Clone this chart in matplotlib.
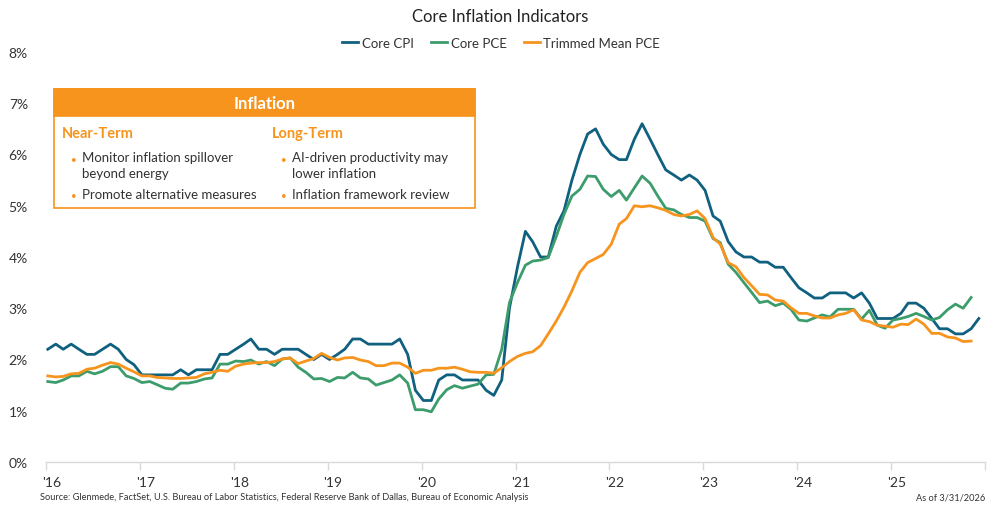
import matplotlib
matplotlib.use("Agg")
import matplotlib.pyplot as plt
import matplotlib.transforms as mtransforms
from matplotlib.patches import Rectangle
import pandas as pd

plt.rcParams['font.family'] = ['Lato', 'DejaVu Sans']

# ---------------- data ----------------
core_cpi = [2.2, 2.3, 2.2, 2.3,
            2.2, 2.1, 2.1, 2.2, 2.3, 2.2, 2.0, 1.9,
            1.7, 1.7, 1.7, 1.7, 1.7, 1.8, 1.7, 1.8,
            1.8, 1.8, 2.1, 2.1, 2.2, 2.3, 2.4, 2.2, 2.2, 2.1, 2.2, 2.2,
            2.2, 2.1, 2.0, 2.1, 2.0, 2.1, 2.2, 2.4, 2.4, 2.3, 2.3, 2.3,
            2.3, 2.4, 2.1, 1.4, 1.2, 1.2, 1.6, 1.7, 1.7, 1.6, 1.6, 1.6,
            1.4, 1.3, 1.6, 3.0, 3.8, 4.5, 4.3, 4.0, 4.0, 4.6, 4.9, 5.5,
            6.0, 6.4, 6.5, 6.2, 6.0, 5.9, 5.9, 6.3, 6.6, 6.3, 6.0, 5.7,
            5.6, 5.5, 5.6, 5.5, 5.3, 4.8, 4.7, 4.3, 4.1, 4.0, 4.0, 3.9,
            3.9, 3.8, 3.8, 3.6, 3.4, 3.3, 3.2, 3.2, 3.3, 3.3, 3.3, 3.2,
            3.3, 3.1, 2.8, 2.8, 2.8, 2.9, 3.1, 3.1, 3.0, 2.8, 2.6, 2.6,
            2.5, 2.5, 2.6, 2.8]

core_pce = [1.57, 1.55, 1.60, 1.68, 1.68, 1.77, 1.72, 1.77, 1.86, 1.86, 1.68, 1.63,
            1.55, 1.57, 1.51, 1.44, 1.42, 1.54, 1.54, 1.57, 1.62, 1.64, 1.91, 1.91, 1.97,
            1.96, 1.99, 1.91, 1.96, 1.88, 2.01, 2.03, 1.85, 1.75, 1.62, 1.63, 1.57, 1.65,
            1.64, 1.75,
            1.64, 1.62, 1.50, 1.55, 1.60, 1.70, 1.54, 1.02, 1.02, 0.98, 1.23, 1.41, 1.49,
            1.44, 1.48, 1.52, 1.70, 1.71,
            2.20, 3.11, 3.50, 3.84, 3.92, 3.94, 3.99, 4.40, 4.83,
            5.19, 5.32, 5.58, 5.57, 5.32, 5.18, 5.30, 5.11, 5.35, 5.58, 5.44, 5.19, 4.95,
            4.92, 4.83, 4.77, 4.77, 4.70, 4.36, 4.28, 3.86,
            3.70, 3.50, 3.31, 3.11, 3.14, 3.05, 3.10, 2.98, 2.77, 2.75, 2.81, 2.87, 2.83,
            2.98, 2.98, 2.98, 2.79, 2.96, 2.67, 2.61, 2.77, 2.80, 2.84, 2.90, 2.84, 2.77,
            2.82, 2.97, 3.08, 3.00, 3.21]

trimmed_pce = [1.68, 1.66, 1.67, 1.72, 1.73, 1.81, 1.83, 1.89, 1.94, 1.91, 1.83, 1.76,
               1.68, 1.68, 1.65, 1.64, 1.63, 1.63, 1.64, 1.65, 1.72, 1.75, 1.79, 1.77, 1.87,
               1.91, 1.93, 1.94, 1.94, 1.96, 2.01, 2.03, 1.92, 1.97, 2.02, 2.12, 2.04, 1.99,
               2.03, 2.04,
               1.99, 1.96, 1.88, 1.88, 1.93, 1.93, 1.85, 1.73, 1.79, 1.79, 1.83, 1.83, 1.85,
               1.81, 1.76, 1.75, 1.75, 1.73, 1.84, 1.96,
               2.06, 2.12, 2.15, 2.27, 2.50, 2.75, 3.02,
               3.34, 3.70, 3.89, 3.97, 4.05, 4.25, 4.64, 4.75, 5.00, 4.98, 5.00, 4.96, 4.91,
               4.83, 4.80, 4.83, 4.90, 4.75, 4.38,
               4.25, 3.89, 3.81, 3.60, 3.44, 3.27, 3.26, 3.16, 3.14, 3.01, 2.90, 2.90, 2.85,
               2.81, 2.81, 2.87, 2.90, 2.97, 2.77, 2.74, 2.67, 2.65, 2.63, 2.69, 2.68, 2.79,
               2.69, 2.51, 2.51, 2.44, 2.42, 2.35, 2.36]

tick_years = list(range(2016, 2027))
tick_labels = ["'16", "'17", "'18", "'19", "'20", "'21", "'22", "'23", "'24", "'25", ""]
y_ticks = [0, 1, 2, 3, 4, 5, 6, 7, 8]

series_names = ["Core CPI", "Core PCE", "Trimmed Mean PCE"]
colors = ["#10607F", "#3C9C6C", "#F7941D"]

near_term = ["Monitor inflation spillover\nbeyond energy", "Promote alternative measures"]
long_term = ["AI-driven productivity may\nlower inflation", "Inflation framework review"]

# ---------------- figure ----------------
months_cpi = pd.date_range("2016-01-01", periods=len(core_cpi), freq="MS") + pd.Timedelta(days=7)
months_pce = pd.date_range("2016-01-01", periods=len(core_pce), freq="MS") + pd.Timedelta(days=7)

fig = plt.figure(figsize=(10, 5.1), dpi=100)
ax = fig.add_axes([0.046, 1 - 463 / 510, 0.985 - 0.046, (463 - 53) / 510])

ax.plot(months_cpi, core_cpi, color=colors[0], lw=2.0, label=series_names[0], solid_joinstyle='round')
ax.plot(months_pce, core_pce, color=colors[1], lw=2.0, label=series_names[1], solid_joinstyle='round')
ax.plot(months_pce, trimmed_pce, color=colors[2], lw=2.0, label=series_names[2], solid_joinstyle='round')

ax.set_xlim(pd.Timestamp("2016-01-01"), pd.Timestamp("2026-01-01"))
ax.set_ylim(0, 8)

ax.set_yticks(y_ticks)
ax.set_yticklabels([f"{v}%" for v in y_ticks], fontsize=10, color="#333333")
ax.tick_params(axis='y', length=0, pad=13)

ax.set_xticks([pd.Timestamp(f"{y}-01-01") for y in tick_years])
ax.set_xticklabels(tick_labels, fontsize=10, color="#333333")
ax.tick_params(axis='x', length=6, width=1, color="#d9d9d9", pad=4)
offset = mtransforms.ScaledTranslation(-3 / 72, 0, fig.dpi_scale_trans)
for lab in ax.get_xticklabels():
    lab.set_horizontalalignment('left')
    lab.set_transform(lab.get_transform() + offset)

for s in ["top", "right", "left"]:
    ax.spines[s].set_visible(False)
ax.spines["bottom"].set_color("#d9d9d9")
ax.spines["bottom"].set_linewidth(1)

# Title and legend
fig.text(0.5, 1 - 17 / 510, "Core Inflation Indicators", ha="center", va="center",
         fontsize=12, color="#222222")
fig.legend(loc="center", bbox_to_anchor=(0.501, 1 - 44 / 510), ncol=3, frameon=False,
           fontsize=9.5, handlelength=1.25, handletextpad=0.25, columnspacing=1.3,
           labelcolor="#333333")

# Footer
fig.text(40 / 1000, 1 - 498 / 510,
         "Source: Glenmede, FactSet, U.S. Bureau of Labor Statistics, Federal Reserve Bank of Dallas, Bureau of Economic Analysis",
         ha="left", va="center", fontsize=6.65, color="#333333")
fig.text(985 / 1000, 1 - 498 / 510, "As of 3/31/2026", ha="right", va="center",
         fontsize=6.65, color="#333333")

# Inset box
orange = "#F7941D"
bx0, bx1 = 54 / 1000, 475 / 1000
by_top, by_bot = 1 - 89.5 / 510, 1 - 208.5 / 510
hdr_bot = 1 - 117 / 510
fig.add_artist(Rectangle((bx0, by_bot), bx1 - bx0, by_top - by_bot, transform=fig.transFigure,
                         facecolor="white", edgecolor=orange, lw=1.2, zorder=5))
fig.add_artist(Rectangle((bx0, hdr_bot), bx1 - bx0, by_top - hdr_bot, transform=fig.transFigure,
                         facecolor=orange, edgecolor=orange, lw=1.2, zorder=6))
fig.text((bx0 + bx1) / 2, 1 - 104 / 510, "Inflation", ha="center", va="center",
         fontsize=12, fontweight="bold", color="white", zorder=7)

def col(x_head, x_bullet, x_text, head, items):
    fig.text(x_head / 1000, 1 - 134 / 510, head, ha="left", va="center", fontsize=10.5,
             fontweight="bold", color=orange, zorder=7)
    ys = [160, 196.5]
    for yy, item in zip(ys, items):
        fig.text(x_bullet / 1000, 1 - yy / 510, "•", ha="left", va="center", fontsize=7,
                 color=orange, zorder=7)
        fig.text(x_text / 1000, 1 - (yy - 7.5) / 510, item, ha="left", va="top",
                 fontsize=9.5, color="#333333", linespacing=1.3, zorder=7)

col(62, 70.5, 82, "Near-Term", near_term)
col(272, 280.5, 292, "Long-Term", long_term)

fig.savefig("out.png", dpi=100)
